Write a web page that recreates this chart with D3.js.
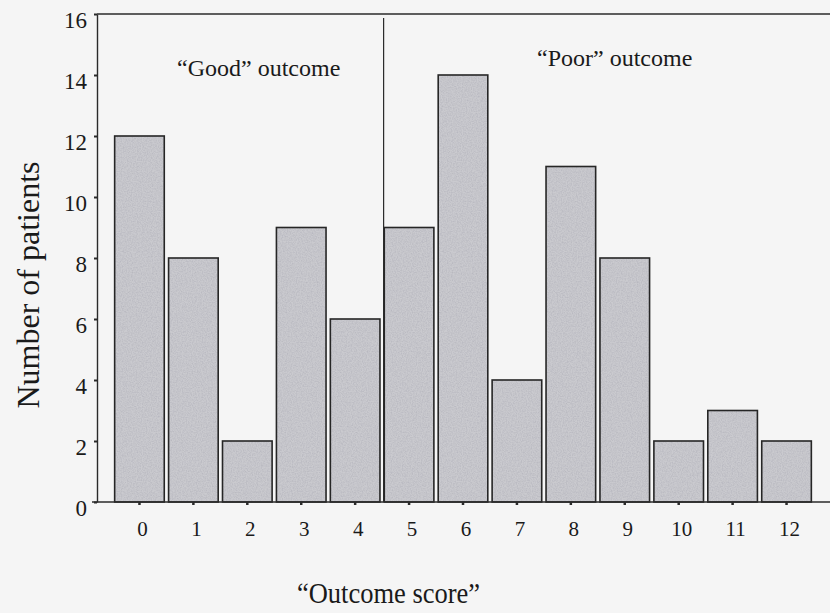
<!DOCTYPE html>
<html>
<head>
<meta charset="utf-8">
<script src="https://cdn.jsdelivr.net/npm/d3@7"></script>
<style>
  html, body { margin: 0; padding: 0; background: #f5f5f5; }
  svg { display: block; }
  text { font-family: "Liberation Serif", "Times New Roman", Times, serif; fill: #1a1a1a; }
</style>
</head>
<body>
<svg id="chart" width="830" height="613"></svg>
<script>
// ---- data ----
const scores = ["0","1","2","3","4","5","6","7","8","9","10","11","12"];
const patients = [12, 8, 2, 9, 6, 9, 14, 4, 11, 8, 2, 3, 2];
const yTicks = [0, 2, 4, 6, 8, 10, 12, 14, 16];
const groupLabels = ["\u201CGood\u201D outcome", "\u201CPoor\u201D outcome"];
const xTitle = "\u201COutcome score\u201D";
const yTitle = "Number of patients";

(function () {
// ---- layout ----
const W = 830, H = 613;
const mLeft = 97, mRight = 830, mTop = 14, mBottom = 502;

const svg = d3.select("#chart");
svg.append("rect").attr("width", W).attr("height", H).attr("fill", "#f5f5f5");

// grain filter for the bars
const defs = svg.append("defs");
const f = defs.append("filter").attr("id", "grain").attr("x", 0).attr("y", 0).attr("width", 1).attr("height", 1);
f.append("feTurbulence").attr("type", "fractalNoise").attr("baseFrequency", 0.8).attr("numOctaves", 2).attr("seed", 3).attr("result", "noise");
f.append("feColorMatrix").attr("in", "noise").attr("type", "matrix")
  .attr("values", "0 0 0 0 0.45  0 0 0 0 0.45  0 0 0 0 0.5  1.4 0 0 0 -0.45").attr("result", "tint");
f.append("feComposite").attr("in", "tint").attr("in2", "SourceGraphic").attr("operator", "in").attr("result", "mix");
f.append("feMerge").call(m => { m.append("feMergeNode").attr("in", "SourceGraphic"); m.append("feMergeNode").attr("in", "mix"); });

const x = d3.scaleBand().domain(scores).range([112.5, 813.5]).paddingInner(0.08).paddingOuter(0.04);
const y = d3.scaleLinear().domain([0, 16]).range([mBottom, mTop]);

const data = scores.map((s, i) => ({ score: s, n: patients[i] }));

// bars
const bars = svg.append("g");
bars.selectAll("rect.fillbar").data(data).join("rect")
  .attr("class", "fillbar")
  .attr("x", d => x(d.score))
  .attr("y", d => y(d.n))
  .attr("width", x.bandwidth())
  .attr("height", d => y(0) - y(d.n))
  .attr("fill", "#cacacf")
  .attr("filter", "url(#grain)");
bars.selectAll("rect.outline").data(data).join("rect")
  .attr("class", "outline")
  .attr("x", d => x(d.score))
  .attr("y", d => y(d.n))
  .attr("width", x.bandwidth())
  .attr("height", d => y(0) - y(d.n))
  .attr("fill", "none")
  .attr("stroke", "#262626")
  .attr("stroke-width", 1.6);

// frame lines
const lineCol = "#2a2a2a";
svg.append("line").attr("x1", mLeft).attr("x2", mRight).attr("y1", mTop).attr("y2", mTop)
  .attr("stroke", lineCol).attr("stroke-width", 1.4);
svg.append("line").attr("x1", mLeft - 5).attr("x2", mRight).attr("y1", mBottom).attr("y2", mBottom)
  .attr("stroke", lineCol).attr("stroke-width", 1.4);

// divider between good and poor
const divX = x("4") + x.bandwidth() + x.step() * x.paddingInner() / 2 + 1.5;
svg.append("line").attr("x1", divX).attr("x2", divX).attr("y1", y(16) + 4).attr("y2", mBottom)
  .attr("stroke", lineCol).attr("stroke-width", 1.2);

// y axis
const yAxis = svg.append("g").attr("transform", `translate(${mLeft},0)`)
  .call(d3.axisLeft(y).tickValues(yTicks).tickSize(3).tickSizeOuter(0).tickPadding(7));
yAxis.attr("font-size", null).attr("font-family", null);
yAxis.select(".domain").attr("stroke", lineCol).attr("stroke-width", 1.4);
yAxis.selectAll(".tick line").attr("stroke", lineCol).attr("stroke-width", 2);
yAxis.selectAll(".tick text").attr("dy", "0.58em")
  .style("font-size", "23px").style("font-family", "'Liberation Serif', 'Times New Roman', serif").style("fill", "#1a1a1a");

// x axis
const xAxis = svg.append("g").attr("transform", `translate(0,${mBottom})`)
  .call(d3.axisBottom(x).tickSize(3).tickSizeOuter(0).tickPadding(20));
xAxis.attr("font-size", null).attr("font-family", null);
xAxis.select(".domain").remove();
xAxis.selectAll(".tick line").attr("stroke", lineCol).attr("stroke-width", 2.5);
xAxis.selectAll(".tick text").attr("dx", 3).attr("dy", "0.5em")
  .style("font-size", "21px").style("font-family", "'Liberation Serif', 'Times New Roman', serif").style("fill", "#1a1a1a");

// group labels
svg.append("text").attr("x", 177).attr("y", 76).style("font-size", "24px").text(groupLabels[0]);
svg.append("text").attr("x", 537).attr("y", 66).style("font-size", "24px").text(groupLabels[1]);

// axis titles
svg.append("text").attr("x", 297).attr("y", 603).style("font-size", "29px")
  .attr("textLength", 183).attr("lengthAdjust", "spacingAndGlyphs").text(xTitle);
svg.append("text").attr("transform", `translate(39,285) rotate(-90)`)
  .attr("text-anchor", "middle").style("font-size", "32px").text(yTitle);
})();
</script>
</body>
</html>
